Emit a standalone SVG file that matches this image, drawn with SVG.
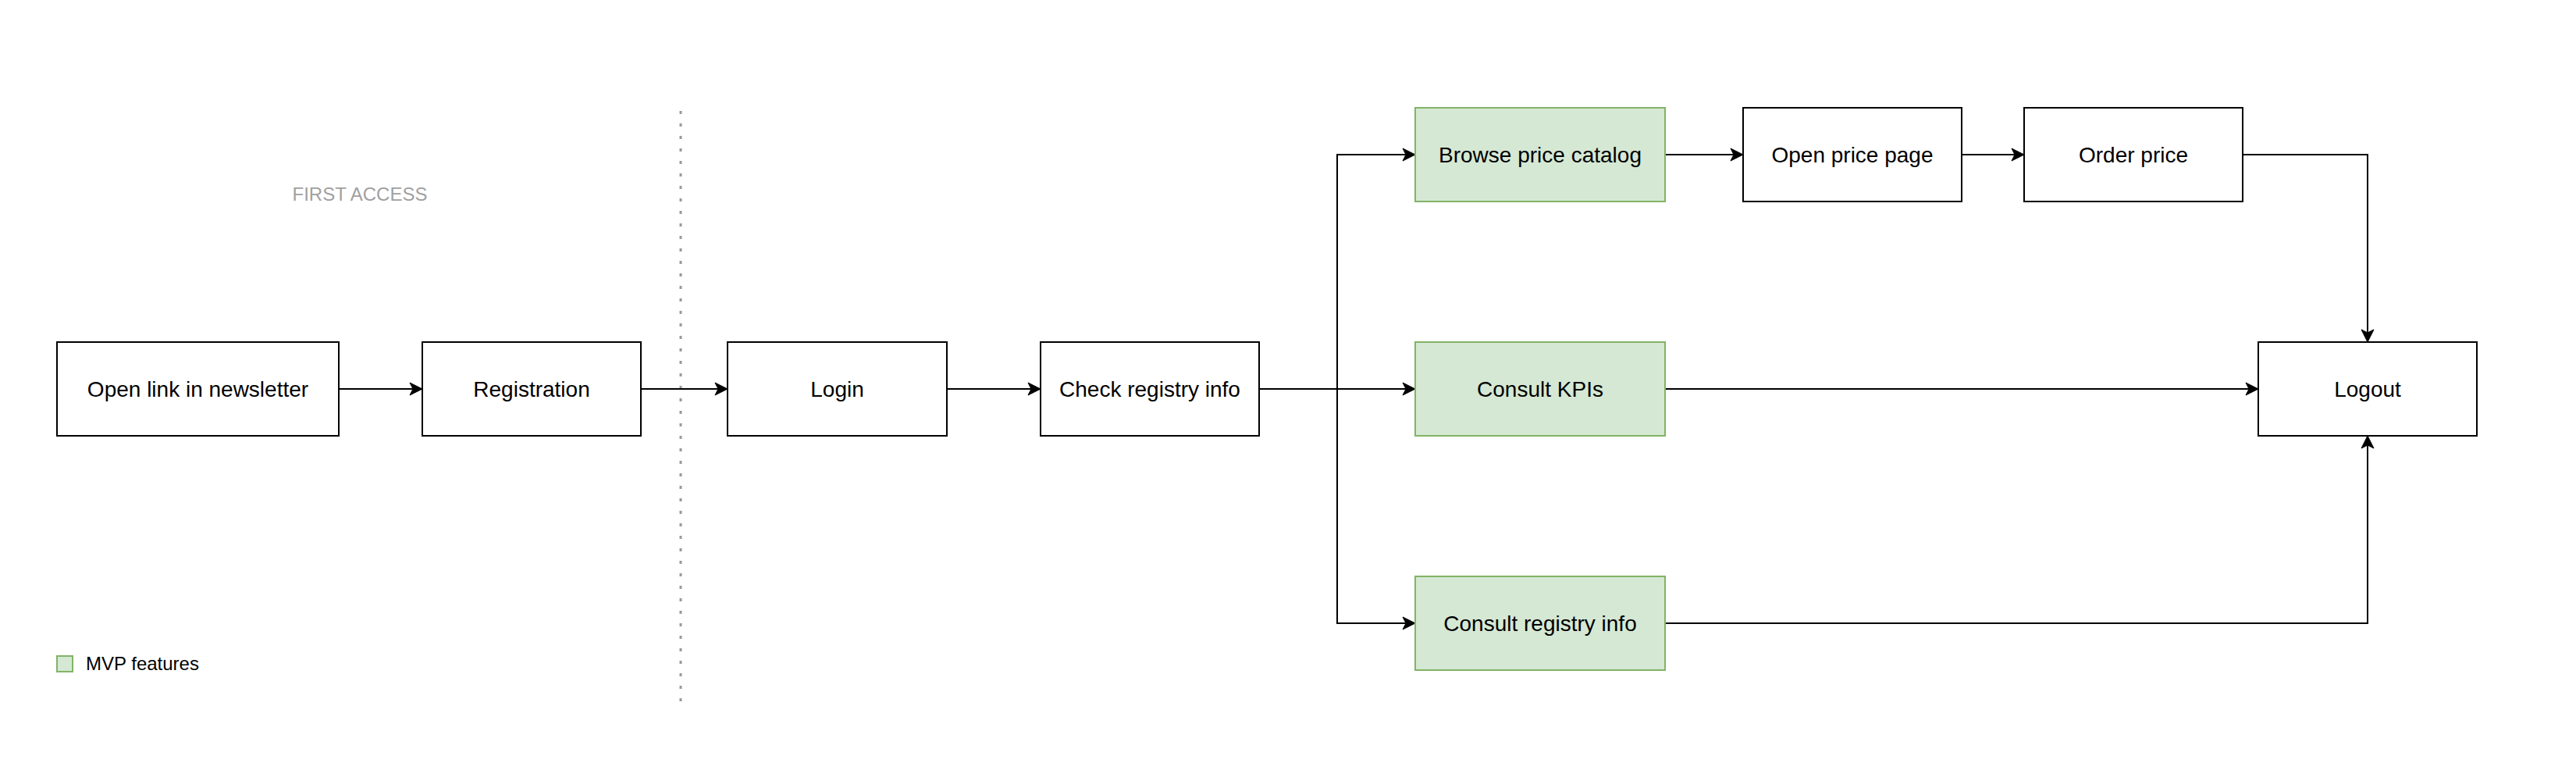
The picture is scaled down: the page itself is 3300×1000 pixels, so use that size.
<svg xmlns="http://www.w3.org/2000/svg" width="3300" height="1000" viewBox="0 0 3300 1000">
<style>
.box{fill:#ffffff;stroke:#000000;stroke-width:2}
.mvp{fill:#d5e8d4;stroke:#82b366;stroke-width:2}
.lbl{font-family:"Liberation Sans",Arial,Helvetica,sans-serif;font-size:28px;fill:#000000;text-anchor:middle}
.edge{fill:none;stroke:#000000;stroke-width:2;marker-end:url(#arr)}
</style>
<defs>
<marker id="arr" viewBox="-17 -9 18 18" refX="0" refY="0" markerWidth="18" markerHeight="18" markerUnits="userSpaceOnUse" orient="auto">
<path d="M0,0 L-16,-8 L-12,0 L-16,8 Z" fill="#000000" stroke="#000000" stroke-width="1"/>
</marker>
</defs>
<rect width="3300" height="1000" fill="#ffffff"/>
<g id="separator">
<line x1="872" y1="142" x2="872" y2="900" stroke="#999999" stroke-width="3" stroke-dasharray="4 12"/>
<text x="461" y="257" font-family="'Liberation Sans',Arial,sans-serif" font-size="24" fill="#a0a0a0" text-anchor="middle">FIRST ACCESS</text>
</g>
<g id="connectors">
<path class="edge" d="M434,498 H541"/>
<path class="edge" d="M821,498 H932"/>
<path class="edge" d="M1213,498 H1333"/>
<path class="edge" d="M1613,498 H1813"/>
<path class="edge" d="M1613,498 H1713 V198 H1813"/>
<path class="edge" d="M1613,498 H1713 V798 H1813"/>
<path class="edge" d="M2133,198 H2233"/>
<path class="edge" d="M2513,198 H2593"/>
<path class="edge" d="M2873,198 H3033 V438"/>
<path class="edge" d="M2133,498 H2893"/>
<path class="edge" d="M2133,798 H3033 V558"/>
</g>
<g id="open-link"><rect class="box" x="73" y="438" width="361" height="120"/><text class="lbl" x="253.5" y="508">Open link in newsletter</text></g>
<g id="registration"><rect class="box" x="541" y="438" width="280" height="120"/><text class="lbl" x="681" y="508">Registration</text></g>
<g id="login"><rect class="box" x="932" y="438" width="281" height="120"/><text class="lbl" x="1072.5" y="508">Login</text></g>
<g id="check-registry"><rect class="box" x="1333" y="438" width="280" height="120"/><text class="lbl" x="1473" y="508">Check registry info</text></g>
<g id="browse-catalog"><rect class="mvp" x="1813" y="138" width="320" height="120"/><text class="lbl" x="1973" y="208">Browse price catalog</text></g>
<g id="consult-kpis"><rect class="mvp" x="1813" y="438" width="320" height="120"/><text class="lbl" x="1973" y="508">Consult KPIs</text></g>
<g id="consult-registry"><rect class="mvp" x="1813" y="738" width="320" height="120"/><text class="lbl" x="1973" y="808">Consult registry info</text></g>
<g id="open-price-page"><rect class="box" x="2233" y="138" width="280" height="120"/><text class="lbl" x="2373" y="208">Open price page</text></g>
<g id="order-price"><rect class="box" x="2593" y="138" width="280" height="120"/><text class="lbl" x="2733" y="208">Order price</text></g>
<g id="logout"><rect class="box" x="2893" y="438" width="280" height="120"/><text class="lbl" x="3033" y="508">Logout</text></g>
<g id="legend">
<rect class="mvp" x="73" y="840" width="20" height="20"/>
<text x="110" y="858" font-family="'Liberation Sans',Arial,sans-serif" font-size="24" fill="#000000">MVP features</text>
</g>
</svg>
